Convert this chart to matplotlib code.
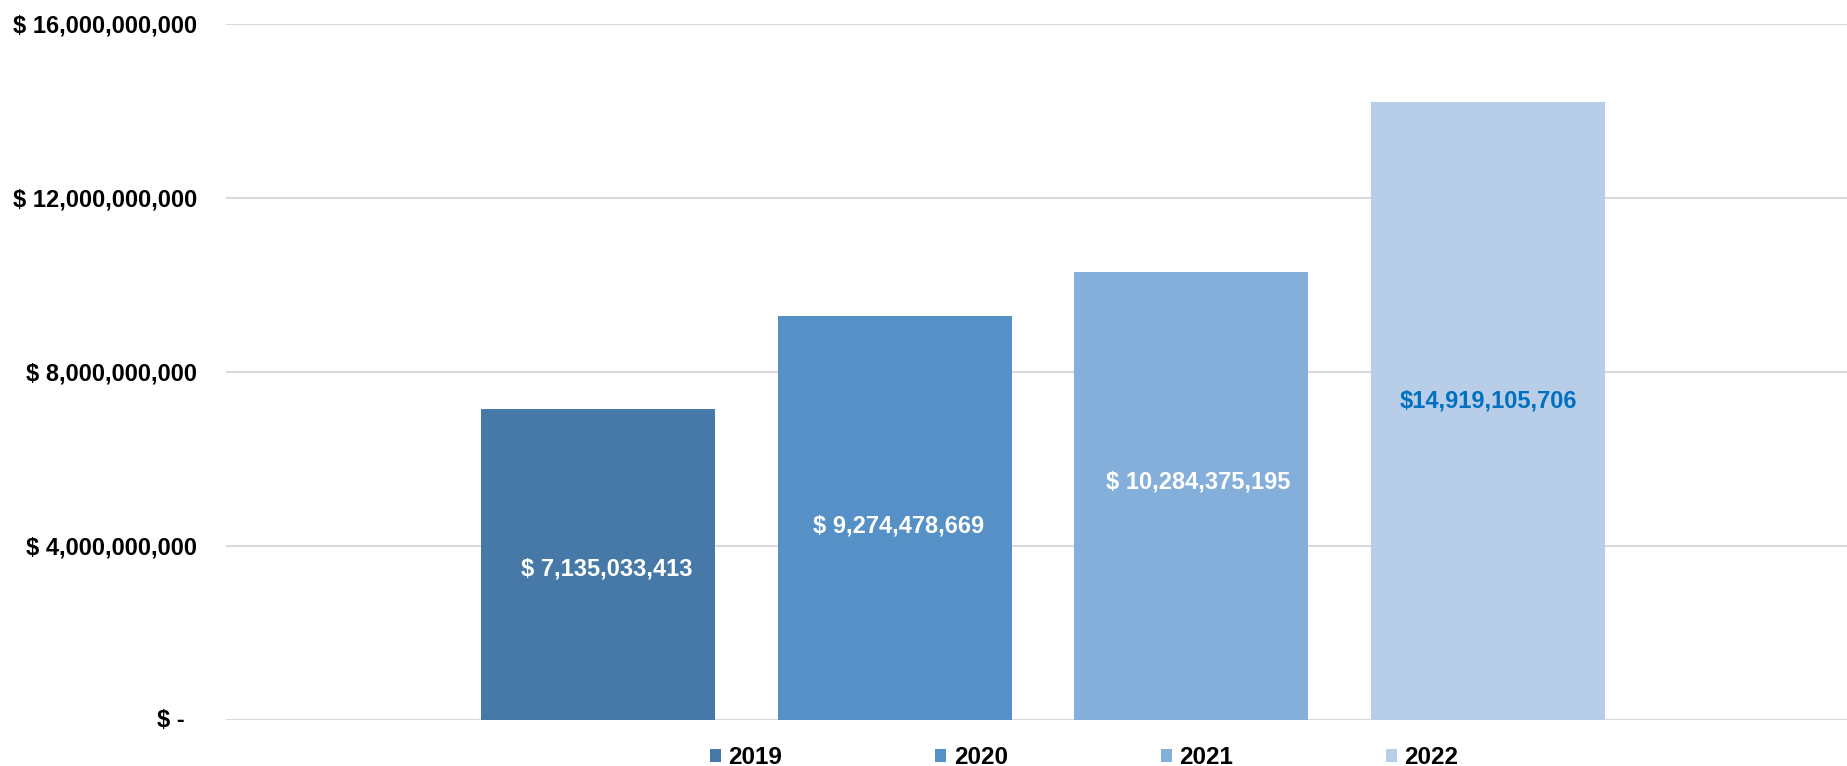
import matplotlib.pyplot as plt
from matplotlib.patches import Patch

plt.rcParams['font.family'] = ['Liberation Sans', 'DejaVu Sans']

years = ["2019", "2020", "2021", "2022"]
# bar heights as drawn in the picture (2022 bar stops near 14.2B)
values = [7135033413, 9274478669, 10284375195, 14200000000]
label_texts = ["$ 7,135,033,413", "$ 9,274,478,669", "$ 10,284,375,195", "$14,919,105,706"]
colors = ["#4779A8", "#5591C7", "#85AFDB", "#B8CDE8"]
label_colors = ["white", "white", "white", "#0070C0"]
yticks = [4e9, 8e9, 12e9, 16e9]
ytick_labels = ["$ 4,000,000,000", "$ 8,000,000,000", "$ 12,000,000,000", "$ 16,000,000,000"]

# small nudges (points) of the value labels from the bar middle
label_dx = [6.5, 3, 5, 0]
label_dy = [-3, -5.5, 10.5, 7]

fig = plt.figure(figsize=(18.47, 7.66), dpi=100)
ax = fig.add_axes([0.1224, 0.06, 0.8776, 0.9092])

step = 0.183
width = 0.1445
for i, (yr, v) in enumerate(zip(years, values)):
    x = (i - 1.5) * step + 0.004
    ax.bar(x, v, width=width, color=colors[i], label=yr, zorder=2)
    ax.annotate(label_texts[i], xy=(x, v / 2), xytext=(label_dx[i], label_dy[i]),
                textcoords="offset points", ha="center", va="center",
                color=label_colors[i], fontsize=17, fontweight="bold", zorder=3)

ax.set_xlim(-0.5, 0.5)
ax.set_ylim(0, 16e9)
ax.set_xticks([])
ax.set_yticks([0] + yticks)
ax.set_yticklabels([""] + ytick_labels, fontsize=17, fontweight="bold")
ax.tick_params(axis="y", length=0, pad=21)
ax.yaxis.grid(True, color="#D9D9D9", linewidth=1.5, zorder=0)
ax.set_axisbelow(True)
for s in ax.spines.values():
    s.set_visible(False)

# accounting style zero label sits a bit left of the others
ax.annotate("$ -", xy=(0, 0), xycoords=("axes fraction", "data"), xytext=(-29.5, 0),
            textcoords="offset points", ha="right", va="center",
            fontsize=17, fontweight="bold", annotation_clip=False)

handles = [Patch(facecolor=c, label=y) for c, y in zip(colors, years)]
fig.legend(handles=handles, loc="center", bbox_to_anchor=(0.587, 0.0115), ncol=4,
           frameon=False, prop={"size": 17.5, "weight": "bold"},
           handlelength=0.45, handleheight=0.45, handletextpad=0.3, columnspacing=6.3)

fig.savefig("out.png", dpi=100)
